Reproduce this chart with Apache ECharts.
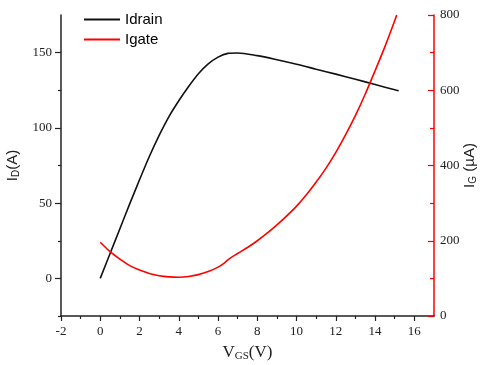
<!DOCTYPE html>
<html>
<head>
<meta charset="utf-8">
<script src="https://cdn.jsdelivr.net/npm/echarts@6/dist/echarts.min.js"></script>
<style>
  html, body { margin: 0; padding: 0; background: #fff; }
  #chart { width: 480px; height: 365px; }
</style>
</head>
<body>
<div id="chart"></div>
<script>
// Idrain (A) vs VGS (V)
const idrainVgs = [0, 0.5, 1, 1.5, 2, 2.5, 3, 3.5, 4, 4.5, 5, 5.5, 6, 6.5, 7, 8, 9, 10, 11, 12, 13, 14, 15, 15.2];
const idrainVal = [0, 16.5, 33, 49.5, 65.5, 81, 95, 107.5, 118, 127.5, 136, 142.5, 147, 149.5, 149.8, 148, 145.3, 142.3, 139, 135.7, 132.3, 128.8, 125.3, 124.6];

// Igate (uA) vs VGS (V)
const igateVgs = [0, 0.5, 1, 1.5, 2, 2.5, 3, 3.5, 4, 4.5, 5, 5.5, 6, 6.3, 6.6, 7, 7.5, 8, 8.5, 9, 9.5, 10, 10.5, 11, 11.5, 12, 12.5, 13, 13.5, 14, 14.5, 15, 15.1];
const igateVal = [196, 171, 151, 134, 122, 113, 107, 104, 103, 105, 110, 118, 130, 140, 153, 166, 182, 200, 220, 242, 266, 292, 322, 356, 393, 435, 482, 533, 590, 652, 716, 785, 800];

// tick positions
const xMajor = [-2, 0, 2, 4, 6, 8, 10, 12, 14, 16];
const xMinor = [-1, 1, 3, 5, 7, 9, 11, 13, 15];
const leftMajor = [0, 50, 100, 150];
const leftMinor = [-25, 25, 75, 125];

const zip = (xs, ys) => xs.map((x, i) => [x, ys[i]]);

const chart = echarts.init(document.getElementById("chart"));

const serif = "Liberation Serif";
const sans = "Liberation Sans";

chart.setOption({
  animation: false,
  grid: { left: 61, right: 46, top: 15, bottom: 49, outerBoundsMode: "none", containLabel: false },
  legend: {
    orient: "vertical",
    left: 79,
    top: 7,
    itemWidth: 36,
    itemHeight: 14,
    itemGap: 5,
    textStyle: { fontFamily: sans, fontSize: 15, color: "#000" },
    data: [
      { name: "Idrain", icon: "path://M0,6 L36,6 L36,8 L0,8 Z" },
      { name: "Igate", icon: "path://M0,6 L36,6 L36,8 L0,8 Z" }
    ]
  },
  xAxis: [
    {
      type: "value",
      min: -2,
      max: 17,
      splitLine: { show: false },
      axisLine: { onZero: false, lineStyle: { color: "#222", width: 1.5 } },
      axisTick: { customValues: xMajor, length: 5, lineStyle: { color: "#222", width: 1.2 } },
      axisLabel: { customValues: xMajor, margin: 9, fontFamily: serif, fontSize: 13, color: "#222" },
      name: "{a|V}{s|GS}{a|(V)}",
      nameLocation: "middle",
      nameGap: 27,
      nameTextStyle: {
        rich: {
          a: { fontFamily: serif, fontSize: 17, color: "#222" },
          s: { fontFamily: serif, fontSize: 11, color: "#222", verticalAlign: "bottom", padding: [8, 0, 0, 0] }
        }
      }
    },
    {
      type: "value",
      position: "bottom",
      min: -2,
      max: 17,
      splitLine: { show: false },
      axisLine: { show: false, onZero: false },
      axisTick: { customValues: xMinor, length: 3, lineStyle: { color: "#222", width: 1.2 } },
      axisLabel: { show: false }
    }
  ],
  yAxis: [
    {
      type: "value",
      position: "left",
      min: -25,
      max: 175,
      splitLine: { show: false },
      axisLine: { show: true, onZero: false, lineStyle: { color: "#222", width: 1.5 } },
      axisTick: { customValues: leftMajor, length: 6, lineStyle: { color: "#222", width: 1.2 } },
      axisLabel: { customValues: leftMajor, margin: 9, fontFamily: serif, fontSize: 13, color: "#222" },
      name: "{a|I}{s|D}{a|(A)}",
      nameLocation: "middle",
      nameRotate: 90,
      nameGap: 36,
      nameTextStyle: {
        rich: {
          a: { fontFamily: sans, fontSize: 15, color: "#222" },
          s: { fontFamily: sans, fontSize: 10, color: "#222", verticalAlign: "bottom", padding: [7, 0, 0, 0] }
        }
      }
    },
    {
      type: "value",
      position: "right",
      min: 0,
      max: 800,
      interval: 200,
      splitLine: { show: false },
      axisLine: { show: true, onZero: false, lineStyle: { color: "#ff0000", width: 1.5 } },
      axisTick: { inside: true, length: 6, lineStyle: { color: "#ff0000", width: 1.2 } },
      minorTick: { show: true, splitNumber: 2, length: 4, lineStyle: { color: "#ff0000", width: 1.2 } },
      axisLabel: { margin: 6, fontFamily: serif, fontSize: 13, color: "#222" },
      name: "{a|I}{s|G}{a| (µA)}",
      nameLocation: "middle",
      nameRotate: 90,
      nameGap: 27,
      nameMoveOverlap: false,
      nameTextStyle: {
        rich: {
          a: { fontFamily: sans, fontSize: 15, color: "#222" },
          s: { fontFamily: sans, fontSize: 10, color: "#222", verticalAlign: "bottom", padding: [7, 0, 0, 0] }
        }
      }
    },
    {
      type: "value",
      position: "left",
      min: -25,
      max: 175,
      splitLine: { show: false },
      axisLine: { show: false, onZero: false },
      axisTick: { customValues: leftMinor, length: 3, lineStyle: { color: "#222", width: 1.2 } },
      axisLabel: { show: false }
    }
  ],
  series: [
    {
      name: "Idrain",
      type: "line",
      xAxisIndex: 0,
      yAxisIndex: 0,
      data: zip(idrainVgs, idrainVal),
      smooth: 0.3,
      symbol: "none",
      lineStyle: { color: "#111", width: 1.6 },
      itemStyle: { color: "#111" }
    },
    {
      name: "Igate",
      type: "line",
      xAxisIndex: 0,
      yAxisIndex: 1,
      data: zip(igateVgs, igateVal),
      smooth: 0.3,
      symbol: "none",
      lineStyle: { color: "#ff0000", width: 1.6 },
      itemStyle: { color: "#ff0000" }
    }
  ]
});
</script>
</body>
</html>
